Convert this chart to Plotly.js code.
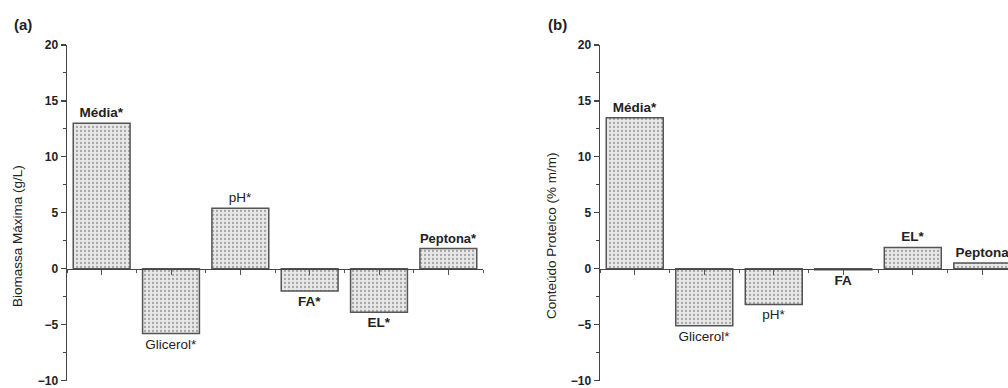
<!DOCTYPE html>
<html>
<head>
<meta charset="utf-8">
<script src="https://cdn.plot.ly/plotly-3.0.1.min.js"></script>
<style>html,body{margin:0;padding:0;background:#fff;}#chart{width:1008px;height:388px;}</style>
</head>
<body>
<div id="chart"></div>
<script>
// ---- data ----
const positionsIdx = [0, 1, 2, 3, 4, 5];
const labelsA = ["Média*", "Glicerol*", "pH*", "FA*", "EL*", "Peptona*"];
const valuesA = [13.0, -5.8, 5.4, -2.0, -3.9, 1.8];
const labelsB = ["Média*", "Glicerol*", "pH*", "FA", "EL*", "Peptona"];
const valuesB = [13.5, -5.1, -3.2, -0.1, 1.9, 0.5];
const yTitleA = "Biomassa Máxima (g/L)";
const yTitleB = "Conteúdo Proteico (% m/m)";
const yTickVals = [-10, -5, 0, 5, 10, 15, 20];

// ---- layout helpers ----
const W = 1008, H = 388;
const yDom = [1 - 380.5 / H, 1 - 45 / H];
const zeroPos = yDom[0] + (yDom[1] - yDom[0]) / 3;
const FONT = "Liberation Sans, Arial, sans-serif";
const regular = new Set(["Glicerol*", "pH*"]);

function barTrace(vals, labels, xa, ya) {
  return {
    type: "bar", x: positionsIdx, y: vals, text: labels,
    xaxis: xa, yaxis: ya, width: 0.82,
    textposition: "outside", cliponaxis: false,
    textfont: { family: FONT, size: 13.5, color: "#222",
      weight: labels.map(l => regular.has(l) ? 400 : 700) },
    marker: {
      color: "#e3e3e3",
      line: { color: "#555", width: 1.5 },
      pattern: { shape: ".", fgcolor: "#a5a5a5", bgcolor: "#e8e8e8", size: 4, solidity: 0.25 }
    },
    hoverinfo: "skip", showlegend: false
  };
}

function yAxis() {
  return {
    domain: yDom, range: [-10, 20], tickvals: yTickVals,
    ticks: "outside", ticklen: 5, tickwidth: 1.2, tickcolor: "#444",
    showline: true, linecolor: "#444", linewidth: 1.5,
    showgrid: false, zeroline: false, ticklabeloverflow: "allow",
    tickfont: { family: FONT, size: 12, color: "#222", weight: 700 },
    minor: { ticks: "outside", ticklen: 3, tickcolor: "#444", tickwidth: 1, dtick: 2.5, showgrid: false },
    automargin: false, fixedrange: true
  };
}

function xAxis(domain, range) {
  return {
    domain: domain, range: range, anchor: "free", position: zeroPos,
    tickvals: positionsIdx, ticktext: positionsIdx.map(() => ""),
    ticks: "outside", ticklen: 5, tickwidth: 1, tickcolor: "#555",
    showline: true, linecolor: "#444", linewidth: 1.5,
    showgrid: false, zeroline: false,
    minor: { ticks: "outside", ticklen: 3, tickcolor: "#555", tick0: 0.5, dtick: 1, showgrid: false },
    automargin: false, fixedrange: true
  };
}

const layout = {
  width: W, height: H,
  margin: { l: 0, r: 0, t: 0, b: 0 },
  paper_bgcolor: "#fff", plot_bgcolor: "rgba(0,0,0,0)",
  xaxis: xAxis([67 / W, 483 / W], [-0.5, 5.5]),
  yaxis: Object.assign(yAxis(), { anchor: "x" }),
  xaxis2: xAxis([600 / W, 1], [-0.5, 5.37]),
  yaxis2: Object.assign(yAxis(), { anchor: "x2" }),
  annotations: [
    { text: "(a)", x: 12 / W, y: 1 - 25 / H, xref: "paper", yref: "paper", xanchor: "left", yanchor: "middle",
      showarrow: false, font: { family: FONT, size: 15, color: "#222", weight: 700 } },
    { text: "(b)", x: 546 / W, y: 1 - 25 / H, xref: "paper", yref: "paper", xanchor: "left", yanchor: "middle",
      showarrow: false, font: { family: FONT, size: 15, color: "#222", weight: 700 } },
    { text: yTitleA, x: 18 / W, y: 1 - 236 / H, xref: "paper", yref: "paper", textangle: -90,
      xanchor: "center", yanchor: "middle", showarrow: false,
      font: { family: FONT, size: 13.5, color: "#222" } },
    { text: yTitleB, x: 552 / W, y: 1 - 236 / H, xref: "paper", yref: "paper", textangle: -90,
      xanchor: "center", yanchor: "middle", showarrow: false,
      font: { family: FONT, size: 13.5, color: "#222" } }
  ]
};

Plotly.newPlot("chart", [barTrace(valuesA, labelsA, "x", "y"), barTrace(valuesB, labelsB, "x2", "y2")],
  layout, { staticPlot: true, displayModeBar: false });
</script>
</body>
</html>
